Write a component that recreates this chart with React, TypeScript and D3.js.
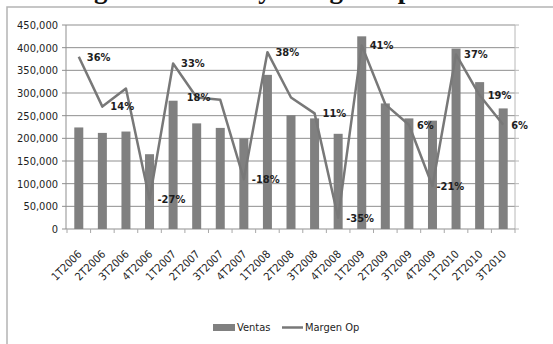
import React from "react";
import * as d3 from "d3";

// Quarterly sales (bars, left axis) and operating margin (line, hidden right axis)
const quarters = [
  "1T2006", "2T2006", "3T2006", "4T2006",
  "1T2007", "2T2007", "3T2007", "4T2007",
  "1T2008", "2T2008", "3T2008", "4T2008",
  "1T2009", "2T2009", "3T2009", "4T2009",
  "1T2010", "2T2010", "3T2010",
];
const ventas = [
  224000, 212000, 215000, 165000,
  283000, 233000, 223000, 200000,
  340000, 251000, 244000, 210000,
  425000, 277000, 244000, 239000,
  398000, 324000, 266000,
];
const margenOp = [
  36, 14, 22, -27,
  33, 18, 17, -18,
  38, 18, 11, -35,
  41, 15, 6, -21,
  37, 19, 6,
];
// which margin points carry a value label
const margenLabelled = [
  true, true, false, true,
  true, true, false, true,
  true, false, true, true,
  true, false, true, true,
  true, true, true,
];
const ventasTicks = [0, 50000, 100000, 150000, 200000, 250000, 300000, 350000, 400000, 450000];
const title = "Margen de Ventas y Margen Op";

const W = 553;
const H = 344;
const plot = { left: 67, right: 515, top: 25, bottom: 229 };
const sans = '"DejaVu Sans Condensed", "Liberation Sans Narrow", "Arial Narrow", sans-serif';
const grey = "#808080";
const lineGrey = "#787878";
const gridGrey = "#8f8f8f";
const textColor = "#1e1e1e";

export default function App() {
  const x = d3.scaleBand<string>().domain(quarters).range([plot.left, plot.right]);
  const y = d3.scaleLinear().domain([0, 450000]).range([plot.bottom, plot.top]);
  const y2 = d3.scaleLinear().domain([-40, 50]).range([plot.bottom, plot.top]);
  const fmt = d3.format(",");
  const barW = 9;
  const cx = (q: string) => (x(q) ?? 0) + x.bandwidth() / 2;

  const line = d3
    .line<number>()
    .x((_, i) => cx(quarters[i]))
    .y((v) => y2(v));

  // label nudges relative to the point (right side by default)
  const labelDx = (i: number) => (i === 5 ? -10 : i === 15 ? 4 : 8);

  return (
    <svg
      width={W}
      height={H}
      style={{ position: "absolute", left: 0, top: 0, background: "#fff" }}
    >
      {/* title, running off the top edge */}
      <text
        x={43}
        y={-2}
        fontFamily='"Liberation Serif", "Times New Roman", serif'
        fontWeight="bold"
        fontSize={27}
        fill="#111"
      >
        {title}
      </text>

      {/* chart frame */}
      <rect x={7} y={7} width={W} height={H} fill="none" stroke="#b4b4b4" strokeWidth={1.5} />

      {/* gridlines and left axis ticks */}
      {ventasTicks.map((t) => (
        <g key={t}>
          {t > 0 && (
            <line x1={plot.left - 1} x2={plot.right} y1={y(t)} y2={y(t)} stroke={gridGrey} strokeWidth={1} />
          )}
          <line x1={plot.left - 5} x2={plot.left - 1} y1={y(t)} y2={y(t)} stroke={gridGrey} strokeWidth={1} />
          <line x1={plot.right} x2={plot.right + 4} y1={y(t)} y2={y(t)} stroke="#b8b8b8" strokeWidth={1} />
          <text
            x={plot.left - 9}
            y={y(t)}
            dy="0.35em"
            textAnchor="end"
            fontFamily={sans}
            fontSize={11}
            fill={textColor}
          >
            {fmt(t)}
          </text>
        </g>
      ))}

      {/* axis lines */}
      <line x1={plot.left - 1} x2={plot.left - 1} y1={plot.top} y2={plot.bottom} stroke={gridGrey} />
      <line x1={plot.right} x2={plot.right} y1={plot.top} y2={plot.bottom} stroke="#b8b8b8" />
      <line x1={plot.left - 1} x2={plot.right} y1={plot.bottom} y2={plot.bottom} stroke={gridGrey} />

      {/* category ticks */}
      {quarters.map((q) => (
        <line key={q} x1={x(q)} x2={x(q)} y1={plot.bottom} y2={plot.bottom + 4} stroke="#a8a8a8" />
      ))}
      <line x1={plot.right} x2={plot.right} y1={plot.bottom} y2={plot.bottom + 4} stroke="#a8a8a8" />

      {/* bars */}
      {quarters.map((q, i) => (
        <rect
          key={q}
          x={cx(q) - barW / 2}
          y={y(ventas[i])}
          width={barW}
          height={plot.bottom - y(ventas[i])}
          fill={grey}
        />
      ))}

      {/* margin line */}
      <path d={line(margenOp) ?? ""} fill="none" stroke={lineGrey} strokeWidth={2.5} strokeLinejoin="round" />

      {/* margin labels */}
      {margenOp.map((v, i) =>
        margenLabelled[i] ? (
          <text
            key={quarters[i]}
            x={cx(quarters[i]) + labelDx(i)}
            y={y2(v)}
            dy="0.35em"
            fontFamily={sans}
            fontWeight="bold"
            fontSize={11}
            fill={textColor}
          >
            {`${v}%`}
          </text>
        ) : null
      )}

      {/* category labels */}
      {quarters.map((q) => (
        <text
          key={q}
          transform={`translate(${cx(q) + 1},${plot.bottom + 23}) rotate(-45)`}
          textAnchor="end"
          dy="0.35em"
          fontFamily={sans}
          fontSize={11}
          fill={textColor}
        >
          {q}
        </text>
      ))}

      {/* legend */}
      <rect x={213} y={324} width={22} height={7} fill={grey} />
      <text x={237} y={327.5} dy="0.35em" fontFamily={sans} fontSize={11} fill={textColor}>
        Ventas
      </text>
      <line x1={282} x2={303} y1={327.5} y2={327.5} stroke={lineGrey} strokeWidth={2.5} />
      <text x={305} y={327.5} dy="0.35em" fontFamily={sans} fontSize={11} fill={textColor}>
        Margen Op
      </text>
    </svg>
  );
}
